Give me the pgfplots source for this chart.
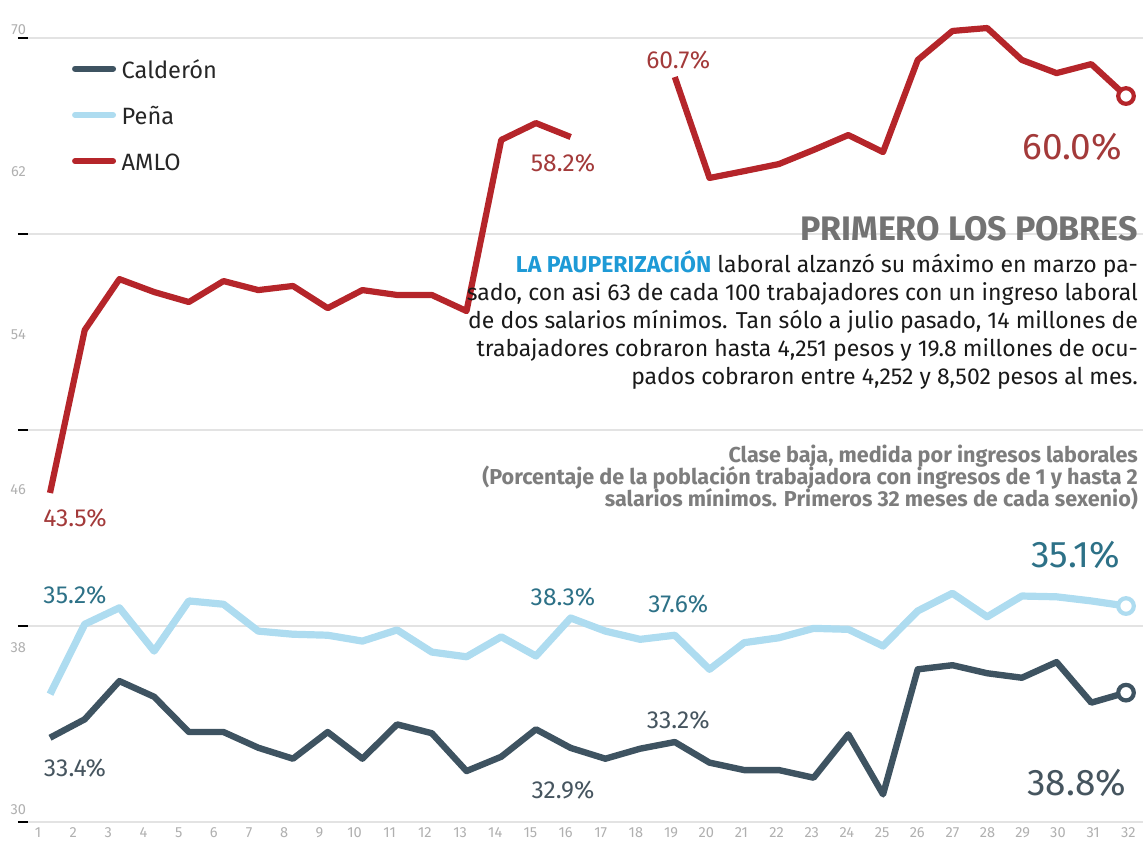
\documentclass[border=0pt]{standalone}
\usepackage{fontspec}
\setmainfont{Fira Sans}
\usepackage{pgfplots}
\usepackage{pgfplotstable}
\pgfplotsset{compat=1.18}

\definecolor{amlo}{HTML}{B5252A}
\definecolor{pena}{HTML}{AEDCF0}
\definecolor{cald}{HTML}{3E5361}
\definecolor{amlolbl}{HTML}{A33A3A}
\definecolor{penalbl}{HTML}{2D7187}
\definecolor{caldlbl}{HTML}{46555F}
\definecolor{gridgray}{HTML}{E3E3E3}
\definecolor{tickgray}{HTML}{B0B0B0}
\definecolor{titlegray}{HTML}{737373}
\definecolor{subgray}{HTML}{7D7D7D}
\definecolor{bluehead}{HTML}{1E9AD6}

\pgfplotstableread{
x cald pena amlo
1 34.30 36.52 46.79
2 35.24 40.09 55.10
3 37.19 40.93 57.70
4 36.39 38.72 57.04
5 34.59 41.28 56.53
6 34.59 41.11 57.60
7 33.79 39.74 57.14
8 33.23 39.58 57.35
9 34.59 39.53 56.22
10 33.23 39.23 57.14
11 34.98 39.80 56.89
12 34.53 38.67 56.89
13 32.60 38.43 56.07
14 33.33 39.45 64.80
15 34.73 38.47 65.66
16 33.78 40.41 64.95
17 33.23 39.74 nan
18 33.74 39.32 nan
19 34.08 39.53 68.01
20 33.03 37.79 62.86
21 32.65 39.15 63.21
22 32.65 39.40 63.57
23 32.26 39.88 64.29
24 34.47 39.83 65.05
25 31.41 38.98 64.18
26 37.79 40.77 68.88
27 38.00 41.67 70.36
28 37.59 40.47 70.51
29 37.36 41.53 68.88
30 38.16 41.49 68.21
31 36.09 41.28 68.67
32 36.60 41.02 67.04
}\datatable

\begin{document}
\begin{tikzpicture}
\begin{axis}[
  scale only axis,
  width=557.5pt, height=411pt,
  xmin=0.366, xmax=32.49,
  ymin=30, ymax=71.94,
  clip=false,
  axis line style={draw=none},
  /pgf/number format/assume math mode=true,
  xtick={0.654,1.667,2.681,3.694,4.707,5.721,6.734,7.747,8.760,9.774,10.787,11.800,12.814,13.827,14.840,15.853,16.867,17.880,18.893,19.907,20.920,21.933,22.946,23.960,24.973,25.986,27.000,28.013,29.026,30.039,31.053,32.066},
  xticklabels={1,2,3,4,5,6,7,8,9,10,11,12,13,14,15,16,17,18,19,20,21,22,23,24,25,26,27,28,29,30,31,32},
  xtick pos=bottom, ytick pos=left,
  major tick length=0pt,
  xticklabel style={font=\fontsize{7.3}{8}\selectfont, text=tickgray, yshift=0.5pt},
  ytick={70.41,63.16,54.85,46.94,38.88,30.61},
  yticklabels={70,62,54,46,38,30},
  yticklabel style={font=\fontsize{7.3}{8}\selectfont, text=tickgray, xshift=2.5pt},
  extra y ticks={30,40,50,60,70},
  extra y tick labels={},
  extra y tick style={grid=major, major grid style={color=gridgray, line width=1pt},
     tick style={black, line width=1.3pt}, major tick length=5pt, tick align=outside},
  unbounded coords=jump,
  legend style={at={(axis cs:1.52,68.88)}, anchor=north west, draw=none, fill=none,
     inner sep=0pt, row sep=11.6pt, column sep=1pt,
     nodes={inner sep=0pt, text height=9pt, text depth=2.5pt, font=\fontsize{11.8}{14}\selectfont, text=black!85}},
  legend cell align=left,
  legend image code/.code={\path (0pt,0pt) (22pt,0pt); \draw[#1, line width=3pt, line cap=round] (1.5pt,0.3ex) -- (20.5pt,0.3ex);},
]
\addplot[cald, line width=3.2pt, line join=round] table[x=x, y=cald] {\datatable};
\addlegendentry{Calderón}
\addplot[pena, line width=3.6pt, line join=round] table[x=x, y=pena] {\datatable};
\addlegendentry{Peña}
\addplot[amlo, line width=3.1pt, line join=round] table[x=x, y=amlo] {\datatable};
\addlegendentry{AMLO}

\addplot[forget plot, only marks, mark=*, mark size=3.9pt, mark options={draw=cald, fill=white, line width=2.1pt}] coordinates {(32,36.60)};
\addplot[forget plot, only marks, mark=*, mark size=3.9pt, mark options={draw=pena, fill=white, line width=2.1pt}] coordinates {(32,41.02)};
\addplot[forget plot, only marks, mark=*, mark size=3.9pt, mark options={draw=amlo, fill=white, line width=2.1pt}] coordinates {(32,67.04)};

% data labels
\begin{scope}[every node/.style={inner sep=0pt}]
\node[text=amlolbl, font=\fontsize{12.3}{14}\selectfont] at (axis cs:19.10,68.88) {60.7\%};
\node[text=amlolbl, font=\fontsize{12.3}{14}\selectfont] at (axis cs:15.78,63.62) {58.2\%};
\node[text=amlolbl, font=\fontsize{18.5}{20}\selectfont] at (axis cs:30.45,64.44) {60.0\%};
\node[text=amlolbl, font=\fontsize{12.3}{14}\selectfont] at (axis cs:1.72,45.51) {43.5\%};
\node[text=penalbl, font=\fontsize{12.3}{14}\selectfont] at (axis cs:1.72,41.58) {35.2\%};
\node[text=caldlbl, font=\fontsize{12.3}{14}\selectfont] at (axis cs:1.72,32.76) {33.4\%};
\node[text=penalbl, font=\fontsize{12.3}{14}\selectfont] at (axis cs:15.78,41.48) {38.3\%};
\node[text=caldlbl, font=\fontsize{12.3}{14}\selectfont] at (axis cs:15.78,31.63) {32.9\%};
\node[text=penalbl, font=\fontsize{12.3}{14}\selectfont] at (axis cs:19.10,41.12) {37.6\%};
\node[text=caldlbl, font=\fontsize{12.3}{14}\selectfont] at (axis cs:19.10,35.20) {33.2\%};
\node[text=penalbl, font=\fontsize{18.5}{20}\selectfont] at (axis cs:30.55,43.62) {35.1\%};
\node[text=caldlbl, font=\fontsize{18.5}{20}\selectfont] at (axis cs:30.58,31.99) {38.8\%};

% text block
\node[anchor=base east, text=titlegray, font=\fontsize{17}{20}\selectfont\bfseries] at (axis cs:32.354,59.69) {PRIMERO LOS POBRES};
\node[anchor=north east, align=right, text=black!90, font=\fontsize{11.5}{14}\selectfont] at (axis cs:32.354,59.20)
 {\textcolor{bluehead}{\bfseries LA PAUPERIZACIÓN} laboral alzanzó su máximo en marzo pa-\\
  sado, con asi 63 de cada 100 trabajadores con un ingreso laboral\\
  de dos salarios mínimos. Tan sólo a julio pasado, 14 millones de\\
  trabajadores cobraron hasta 4,251 pesos y 19.8 millones de ocu-\\
  pados cobraron entre 4,252 y 8,502 pesos al mes.};
\node[anchor=base east, text=subgray, font=\fontsize{10.8}{14}\selectfont\bfseries] at (axis cs:32.354,48.367)
 {Clase baja, medida por ingresos laborales};
\node[anchor=base east, text=subgray, font=\fontsize{10.8}{14}\selectfont\bfseries] at (axis cs:32.354,47.245)
 {(Porcentaje de la población trabajadora con ingresos de 1 y hasta 2};
\node[anchor=base east, text=subgray, font=\fontsize{10.8}{14}\selectfont\bfseries] at (axis cs:32.354,46.122)
 {salarios mínimos. Primeros 32 meses de cada sexenio)};
\end{scope}
\end{axis}
\pgfresetboundingbox
\path (-14pt,-10pt) rectangle (557.5pt,411pt);
\end{tikzpicture}
\end{document}
